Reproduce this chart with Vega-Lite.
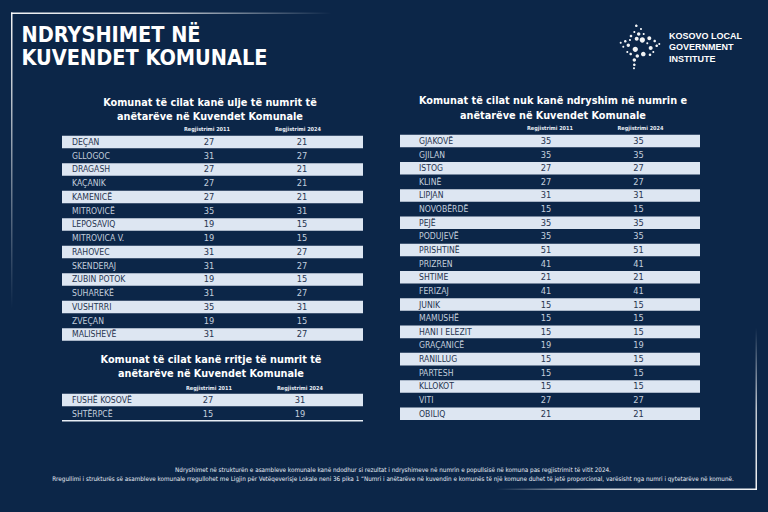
{
  "$schema": "https://vega.github.io/schema/vega-lite/v6.json",
  "width": 768,
  "height": 512,
  "autosize": {"type": "none"},
  "padding": 0,
  "background": "#0c2648",
  "config": {
    "view": {"stroke": null},
    "axis": {"disable": true},
    "legend": {"disable": true},
    "text": {"font": "DejaVu Sans Condensed, DejaVu Sans, sans-serif"}
  },
  "datasets": {
    "ulje": [
      {"komuna": "DEÇAN", "r2011": 27, "r2024": 21},
      {"komuna": "GLLOGOC", "r2011": 31, "r2024": 27},
      {"komuna": "DRAGASH", "r2011": 27, "r2024": 21},
      {"komuna": "KAÇANIK", "r2011": 27, "r2024": 21},
      {"komuna": "KAMENICË", "r2011": 27, "r2024": 21},
      {"komuna": "MITROVICË", "r2011": 35, "r2024": 31},
      {"komuna": "LEPOSAVIQ", "r2011": 19, "r2024": 15},
      {"komuna": "MITROVICA V.", "r2011": 19, "r2024": 15},
      {"komuna": "RAHOVEC", "r2011": 31, "r2024": 27},
      {"komuna": "SKENDERAJ", "r2011": 31, "r2024": 27},
      {"komuna": "ZUBIN POTOK", "r2011": 19, "r2024": 15},
      {"komuna": "SUHAREKË", "r2011": 31, "r2024": 27},
      {"komuna": "VUSHTRRI", "r2011": 35, "r2024": 31},
      {"komuna": "ZVEÇAN", "r2011": 19, "r2024": 15},
      {"komuna": "MALISHEVË", "r2011": 31, "r2024": 27}
    ],
    "rritje": [
      {"komuna": "FUSHË KOSOVË", "r2011": 27, "r2024": 31},
      {"komuna": "SHTËRPCË", "r2011": 15, "r2024": 19}
    ],
    "pa": [
      {"komuna": "GJAKOVË", "r2011": 35, "r2024": 35},
      {"komuna": "GJILAN", "r2011": 35, "r2024": 35},
      {"komuna": "ISTOG", "r2011": 27, "r2024": 27},
      {"komuna": "KLINË", "r2011": 27, "r2024": 27},
      {"komuna": "LIPJAN", "r2011": 31, "r2024": 31},
      {"komuna": "NOVOBËRDË", "r2011": 15, "r2024": 15},
      {"komuna": "PEJË", "r2011": 35, "r2024": 35},
      {"komuna": "PODUJEVË", "r2011": 35, "r2024": 35},
      {"komuna": "PRISHTINË", "r2011": 51, "r2024": 51},
      {"komuna": "PRIZREN", "r2011": 41, "r2024": 41},
      {"komuna": "SHTIME", "r2011": 21, "r2024": 21},
      {"komuna": "FERIZAJ", "r2011": 41, "r2024": 41},
      {"komuna": "JUNIK", "r2011": 15, "r2024": 15},
      {"komuna": "MAMUSHË", "r2011": 15, "r2024": 15},
      {"komuna": "HANI I ELEZIT", "r2011": 15, "r2024": 15},
      {"komuna": "GRAÇANICË", "r2011": 19, "r2024": 19},
      {"komuna": "RANILLUG", "r2011": 15, "r2024": 15},
      {"komuna": "PARTESH", "r2011": 15, "r2024": 15},
      {"komuna": "KLLOKOT", "r2011": 15, "r2024": 15},
      {"komuna": "VITI", "r2011": 27, "r2024": 27},
      {"komuna": "OBILIQ", "r2011": 21, "r2024": 21}
    ],
    "cols": [
      {"c": "Regjistrimi 2011"},
      {"c": "Regjistrimi 2024"}
    ],
    "title": [
      {"b": "title", "t": ["NDRYSHIMET NË", "KUVENDET KOMUNALE"]}
    ],
    "texts": [
      {"b": "logo", "n": 1, "t": "KOSOVO LOCAL"},
      {"b": "logo", "n": 2, "t": "GOVERNMENT"},
      {"b": "logo", "n": 3, "t": "INSTITUTE"},
      {"b": "h1", "n": 1, "t": "Komunat të cilat kanë ulje të numrit të"},
      {"b": "h1", "n": 2, "t": "anëtarëve në Kuvendet Komunale"},
      {"b": "h2", "n": 1, "t": "Komunat të cilat kanë rritje të numrit të"},
      {"b": "h2", "n": 2, "t": "anëtarëve në Kuvendet Komunale"},
      {"b": "h3", "n": 1, "t": "Komunat të cilat nuk kanë ndryshim në numrin e"},
      {"b": "h3", "n": 2, "t": "anëtarëve në Kuvendet Komunale"},
      {"b": "foot", "n": 1, "t": "Ndryshimet në strukturën e asambleve komunale kanë ndodhur si rezultat i ndryshimeve në numrin e popullsisë në komuna pas regjistrimit të vitit 2024."},
      {"b": "foot", "n": 2, "t": "Rregullimi i strukturës së asambleve komunale rregullohet me Ligjin për Vetëqeverisje Lokale neni 36 pika 1 “Numri i anëtarëve në kuvendin e komunës të një komune duhet të jetë proporcional, varësisht nga numri i qytetarëve në komunë."}
    ]
  },
  "resolve": {"scale": {"x": "independent", "y": "independent"}},
  "layer": [
    {
      "data": {"values": [{"seg": "top"}]},
      "mark": {"type": "rect", "fill": {"gradient": "linear", "x1": 0, "y1": 0, "x2": 1, "y2": 0, "stops": [{"offset": 0, "color": "rgba(255,255,255,0.95)"}, {"offset": 0.45, "color": "rgba(255,255,255,0.8)"}, {"offset": 1, "color": "rgba(255,255,255,0)"}]}},
      "encoding": {
        "x": {"datum": 0, "type": "quantitative", "scale": {"domain": [0, 1], "range": [11, 757]}},
        "x2": {"datum": 0.43},
        "y": {"datum": 0, "type": "quantitative", "scale": {"domain": [0, 1], "range": [12.5, 490]}},
        "y2": {"datum": 0.0032}
      }
    },
    {
      "data": {"values": [{"seg": "left"}]},
      "mark": {"type": "rect", "fill": {"gradient": "linear", "x1": 0, "y1": 0, "x2": 0, "y2": 1, "stops": [{"offset": 0, "color": "rgba(255,255,255,0.95)"}, {"offset": 0.3, "color": "rgba(255,255,255,0.7)"}, {"offset": 1, "color": "rgba(255,255,255,0)"}]}},
      "encoding": {
        "x": {"datum": 0, "type": "quantitative", "scale": {"domain": [0, 1], "range": [11, 757]}},
        "x2": {"datum": 0.002},
        "y": {"datum": 0, "type": "quantitative", "scale": {"domain": [0, 1], "range": [12.5, 490]}},
        "y2": {"datum": 0.62}
      }
    },
    {
      "data": {"values": [{"seg": "right"}]},
      "mark": {"type": "rect", "fill": {"gradient": "linear", "x1": 0, "y1": 0, "x2": 0, "y2": 1, "stops": [{"offset": 0, "color": "rgba(255,255,255,0)"}, {"offset": 0.5, "color": "rgba(255,255,255,0.75)"}, {"offset": 1, "color": "rgba(255,255,255,0.95)"}]}},
      "encoding": {
        "x": {"datum": 0.998, "type": "quantitative", "scale": {"domain": [0, 1], "range": [11, 757]}},
        "x2": {"datum": 1},
        "y": {"datum": 0.66, "type": "quantitative", "scale": {"domain": [0, 1], "range": [12.5, 490]}},
        "y2": {"datum": 1}
      }
    },
    {
      "data": {"values": [{"seg": "bottom"}]},
      "mark": {"type": "rect", "fill": {"gradient": "linear", "x1": 0, "y1": 0, "x2": 1, "y2": 0, "stops": [{"offset": 0, "color": "rgba(255,255,255,0)"}, {"offset": 0.4, "color": "rgba(255,255,255,0.8)"}, {"offset": 1, "color": "rgba(255,255,255,0.95)"}]}},
      "encoding": {
        "x": {"datum": 0.65, "type": "quantitative", "scale": {"domain": [0, 1], "range": [11, 757]}},
        "x2": {"datum": 1},
        "y": {"datum": 0.9968, "type": "quantitative", "scale": {"domain": [0, 1], "range": [12.5, 490]}},
        "y2": {"datum": 1}
      }
    },
    {
      "data": {"name": "title"},
      "mark": {"type": "text", "align": "left", "baseline": "alphabetic", "fontSize": 21.5, "lineHeight": 23, "fontWeight": "bold", "color": "#ffffff"},
      "encoding": {
        "text": {"field": "t"},
        "x": {"field": "b", "type": "nominal", "scale": {"type": "point", "range": [21.5, 21.5]}},
        "y": {"field": "b", "type": "nominal", "scale": {"type": "point", "range": [42, 42]}}
      }
    },
    {
      "data": {"values": [{"logo": "KLGI"}]},
      "mark": {"type": "point", "filled": true, "color": "#ffffff", "opacity": 0.95, "size": 1936, "shape": "M-0.227,-0.968a0.06,0.06,0,1,0,0.12,0a0.06,0.06,0,1,0,-0.12,0ZM0,-0.818a0.045,0.045,0,1,0,0.09,0a0.045,0.045,0,1,0,-0.09,0ZM-0.303,-0.682a0.045,0.045,0,1,0,0.09,0a0.045,0.045,0,1,0,-0.09,0ZM-0.136,-0.591a0.077,0.077,0,1,0,0.154,0a0.077,0.077,0,1,0,-0.154,0ZM0.123,-0.591a0.045,0.045,0,1,0,0.09,0a0.045,0.045,0,1,0,-0.09,0ZM-0.469,-0.5a0.06,0.06,0,1,0,0.12,0a0.06,0.06,0,1,0,-0.12,0ZM-0.24,-0.377a0.09,0.09,0,1,0,0.18,0a0.09,0.09,0,1,0,-0.18,0ZM-0.015,-0.318a0.12,0.12,0,1,0,0.24,0a0.12,0.12,0,1,0,-0.24,0ZM0.333,-0.395a0.09,0.09,0,1,0,0.18,0a0.09,0.09,0,1,0,-0.18,0ZM0.608,-0.273a0.06,0.06,0,1,0,0.12,0a0.06,0.06,0,1,0,-0.12,0ZM0.832,-0.136a0.045,0.045,0,1,0,0.09,0a0.045,0.045,0,1,0,-0.09,0ZM-0.922,-0.195a0.045,0.045,0,1,0,0.09,0a0.045,0.045,0,1,0,-0.09,0ZM-0.728,-0.259a0.06,0.06,0,1,0,0.12,0a0.06,0.06,0,1,0,-0.12,0ZM-0.609,-0.077a0.077,0.077,0,1,0,0.154,0a0.077,0.077,0,1,0,-0.154,0ZM-0.334,0.105a0.12,0.12,0,1,0,0.24,0a0.12,0.12,0,1,0,-0.24,0ZM0.045,0.318a0.105,0.105,0,1,0,0.21,0a0.105,0.105,0,1,0,-0.21,0ZM0.396,0.045a0.09,0.09,0,1,0,0.18,0a0.09,0.09,0,1,0,-0.18,0ZM0.699,-0.059a0.06,0.06,0,1,0,0.12,0a0.06,0.06,0,1,0,-0.12,0ZM-0.804,-0.014a0.045,0.045,0,1,0,0.09,0a0.045,0.045,0,1,0,-0.09,0ZM-0.622,0.227a0.045,0.045,0,1,0,0.09,0a0.045,0.045,0,1,0,-0.09,0ZM-0.483,0.318a0.06,0.06,0,1,0,0.12,0a0.06,0.06,0,1,0,-0.12,0ZM-0.2,0.409a0.077,0.077,0,1,0,0.154,0a0.077,0.077,0,1,0,-0.154,0ZM0.395,0.35a0.06,0.06,0,1,0,0.12,0a0.06,0.06,0,1,0,-0.12,0ZM0.56,0.227a0.045,0.045,0,1,0,0.09,0a0.045,0.045,0,1,0,-0.09,0ZM-0.335,0.591a0.077,0.077,0,1,0,0.154,0a0.077,0.077,0,1,0,-0.154,0ZM-0.318,0.805a0.06,0.06,0,1,0,0.12,0a0.06,0.06,0,1,0,-0.12,0ZM-0.318,0.97a0.045,0.045,0,1,0,0.09,0a0.045,0.045,0,1,0,-0.09,0ZM0.287,-0.168a0.045,0.045,0,1,0,0.09,0a0.045,0.045,0,1,0,-0.09,0ZM-0.5,-0.318a0.045,0.045,0,1,0,0.09,0a0.045,0.045,0,1,0,-0.09,0Z"},
      "encoding": {
        "x": {"field": "logo", "type": "nominal", "scale": {"type": "point", "range": [640, 640]}},
        "y": {"field": "logo", "type": "nominal", "scale": {"type": "point", "range": [47, 47]}}
      }
    },
    {
      "data": {"name": "texts"},
      "transform": [{"filter": "datum.b == 'logo'"}],
      "mark": {"type": "text", "align": "left", "baseline": "alphabetic", "font": "Liberation Sans, Arial, sans-serif", "fontSize": 9, "fontWeight": "bold", "color": "#ffffff"},
      "encoding": {
        "text": {"field": "t"},
        "x": {"field": "t", "type": "nominal", "scale": {"type": "point", "range": [669, 669]}},
        "y": {"field": "n", "type": "ordinal", "scale": {"type": "point", "range": [38.5, 61.5], "padding": 0}}
      }
    },
    {
      "data": {"name": "texts"},
      "transform": [{"filter": "datum.b == 'h1'"}],
      "mark": {"type": "text", "align": "center", "baseline": "alphabetic", "fontSize": 10.8, "fontWeight": "bold", "color": "#ffffff"},
      "encoding": {
        "text": {"field": "t"},
        "x": {"field": "t", "type": "nominal", "scale": {"type": "point", "range": [210, 210]}},
        "y": {"field": "n", "type": "ordinal", "scale": {"type": "point", "range": [105.5, 120], "padding": 0}}
      }
    },
    {
      "data": {"name": "texts"},
      "transform": [{"filter": "datum.b == 'h2'"}],
      "mark": {"type": "text", "align": "center", "baseline": "alphabetic", "fontSize": 10.8, "fontWeight": "bold", "color": "#ffffff"},
      "encoding": {
        "text": {"field": "t"},
        "x": {"field": "t", "type": "nominal", "scale": {"type": "point", "range": [211, 211]}},
        "y": {"field": "n", "type": "ordinal", "scale": {"type": "point", "range": [362.5, 377], "padding": 0}}
      }
    },
    {
      "data": {"name": "texts"},
      "transform": [{"filter": "datum.b == 'h3'"}],
      "mark": {"type": "text", "align": "center", "baseline": "alphabetic", "fontSize": 10.8, "fontWeight": "bold", "color": "#ffffff"},
      "encoding": {
        "text": {"field": "t"},
        "x": {"field": "t", "type": "nominal", "scale": {"type": "point", "range": [553, 553]}},
        "y": {"field": "n", "type": "ordinal", "scale": {"type": "point", "range": [104, 118.5], "padding": 0}}
      }
    },
    {
      "data": {"name": "texts"},
      "transform": [{"filter": "datum.b == 'foot'"}],
      "mark": {"type": "text", "align": "center", "baseline": "middle", "fontSize": 6.3, "color": "#e8edf5"},
      "encoding": {
        "text": {"field": "t"},
        "x": {"field": "t", "type": "nominal", "scale": {"type": "point", "range": [393, 393]}},
        "y": {"field": "n", "type": "ordinal", "scale": {"type": "point", "range": [470, 479], "padding": 0}}
      }
    },
    {
      "data": {"name": "cols"},
      "mark": {"type": "text", "align": "center", "baseline": "middle", "fontSize": 5.5, "fontWeight": "bold", "color": "#e8edf5"},
      "encoding": {
        "text": {"field": "c"},
        "x": {"field": "c", "type": "nominal", "scale": {"type": "point", "range": [207, 298], "padding": 0}},
        "y": {"field": "c", "type": "nominal", "scale": {"type": "point", "range": [128.5, 128.5]}}
      }
    },
    {
      "data": {"name": "cols"},
      "mark": {"type": "text", "align": "center", "baseline": "middle", "fontSize": 5.5, "fontWeight": "bold", "color": "#e8edf5"},
      "encoding": {
        "text": {"field": "c"},
        "x": {"field": "c", "type": "nominal", "scale": {"type": "point", "range": [209, 300], "padding": 0}},
        "y": {"field": "c", "type": "nominal", "scale": {"type": "point", "range": [387.5, 387.5]}}
      }
    },
    {
      "data": {"name": "cols"},
      "mark": {"type": "text", "align": "center", "baseline": "middle", "fontSize": 5.5, "fontWeight": "bold", "color": "#e8edf5"},
      "encoding": {
        "text": {"field": "c"},
        "x": {"field": "c", "type": "nominal", "scale": {"type": "point", "range": [550, 640.5], "padding": 0}},
        "y": {"field": "c", "type": "nominal", "scale": {"type": "point", "range": [127.5, 127.5]}}
      }
    },
    {
      "data": {"name": "ulje"},
      "transform": [{"window": [{"op": "row_number", "as": "i"}]}],
      "mark": {"type": "rect"},
      "encoding": {
        "y": {"field": "komuna", "type": "nominal", "sort": null, "scale": {"type": "band", "range": [135.1, 341.35], "paddingInner": 0.08, "paddingOuter": 0.04}},
        "x": {"datum": 0, "type": "quantitative", "scale": {"domain": [0, 1], "range": [62, 363]}},
        "x2": {"datum": 1},
        "fill": {"condition": {"test": "datum.i % 2 == 1", "value": "#dde6f2"}, "value": "transparent"}
      }
    },
    {
      "data": {"name": "ulje"},
      "transform": [{"window": [{"op": "row_number", "as": "i"}]}],
      "mark": {"type": "text", "align": "left", "baseline": "middle", "dx": 10, "fontSize": 8.6},
      "encoding": {
        "y": {"field": "komuna", "type": "nominal", "sort": null, "scale": {"type": "band", "range": [135.1, 341.35], "paddingInner": 0.08, "paddingOuter": 0.04}},
        "x": {"datum": 0, "type": "quantitative", "scale": {"domain": [0, 1], "range": [62, 363]}},
        "text": {"field": "komuna"},
        "color": {"condition": {"test": "datum.i % 2 == 1", "value": "#26344f"}, "value": "#c3cedd"}
      }
    },
    {
      "data": {"name": "ulje"},
      "transform": [{"window": [{"op": "row_number", "as": "i"}]}, {"fold": ["r2011", "r2024"], "as": ["col", "val"]}],
      "mark": {"type": "text", "align": "center", "baseline": "middle", "fontSize": 9.2},
      "encoding": {
        "y": {"field": "komuna", "type": "nominal", "sort": null, "scale": {"type": "band", "range": [135.1, 341.35], "paddingInner": 0.08, "paddingOuter": 0.04}},
        "x": {"field": "col", "type": "nominal", "scale": {"type": "point", "range": [209, 302], "padding": 0}},
        "text": {"field": "val"},
        "color": {"condition": {"test": "datum.i % 2 == 1", "value": "#26344f"}, "value": "#c3cedd"}
      }
    },
    {
      "data": {"name": "rritje"},
      "transform": [{"window": [{"op": "row_number", "as": "i"}]}],
      "mark": {"type": "rect"},
      "encoding": {
        "y": {"field": "komuna", "type": "nominal", "sort": null, "scale": {"type": "band", "range": [393.25, 420.25], "paddingInner": 0.08, "paddingOuter": 0.04}},
        "x": {"datum": 0, "type": "quantitative", "scale": {"domain": [0, 1], "range": [62, 363]}},
        "x2": {"datum": 1},
        "fill": {"condition": {"test": "datum.i % 2 == 1", "value": "#dde6f2"}, "value": "transparent"}
      }
    },
    {
      "data": {"name": "rritje"},
      "transform": [{"window": [{"op": "row_number", "as": "i"}]}],
      "mark": {"type": "rule", "strokeWidth": 1.5, "color": "#e8eef6", "yOffset": 1},
      "encoding": {
        "y": {"field": "komuna", "type": "nominal", "sort": null, "bandPosition": 1, "scale": {"type": "band", "range": [393.25, 420.25], "paddingInner": 0.08, "paddingOuter": 0.04}},
        "x": {"datum": 0, "type": "quantitative", "scale": {"domain": [0, 1], "range": [62, 363]}},
        "x2": {"datum": 1},
        "strokeOpacity": {"condition": {"test": "datum.i == 2", "value": 1}, "value": 0}
      }
    },
    {
      "data": {"name": "rritje"},
      "transform": [{"window": [{"op": "row_number", "as": "i"}]}],
      "mark": {"type": "text", "align": "left", "baseline": "middle", "dx": 10, "fontSize": 8.6},
      "encoding": {
        "y": {"field": "komuna", "type": "nominal", "sort": null, "scale": {"type": "band", "range": [393.25, 420.25], "paddingInner": 0.08, "paddingOuter": 0.04}},
        "x": {"datum": 0, "type": "quantitative", "scale": {"domain": [0, 1], "range": [62, 363]}},
        "text": {"field": "komuna"},
        "color": {"condition": {"test": "datum.i % 2 == 1", "value": "#26344f"}, "value": "#c3cedd"}
      }
    },
    {
      "data": {"name": "rritje"},
      "transform": [{"window": [{"op": "row_number", "as": "i"}]}, {"fold": ["r2011", "r2024"], "as": ["col", "val"]}],
      "mark": {"type": "text", "align": "center", "baseline": "middle", "fontSize": 9.2},
      "encoding": {
        "y": {"field": "komuna", "type": "nominal", "sort": null, "scale": {"type": "band", "range": [393.25, 420.25], "paddingInner": 0.08, "paddingOuter": 0.04}},
        "x": {"field": "col", "type": "nominal", "scale": {"type": "point", "range": [208, 300], "padding": 0}},
        "text": {"field": "val"},
        "color": {"condition": {"test": "datum.i % 2 == 1", "value": "#26344f"}, "value": "#c3cedd"}
      }
    },
    {
      "data": {"name": "pa"},
      "transform": [{"window": [{"op": "row_number", "as": "i"}]}],
      "mark": {"type": "rect"},
      "encoding": {
        "y": {"field": "komuna", "type": "nominal", "sort": null, "scale": {"type": "band", "range": [134.1, 420.5], "paddingInner": 0.08, "paddingOuter": 0.04}},
        "x": {"datum": 0, "type": "quantitative", "scale": {"domain": [0, 1], "range": [400, 700]}},
        "x2": {"datum": 1},
        "fill": {"condition": {"test": "datum.i % 2 == 1", "value": "#dde6f2"}, "value": "transparent"}
      }
    },
    {
      "data": {"name": "pa"},
      "transform": [{"window": [{"op": "row_number", "as": "i"}]}],
      "mark": {"type": "text", "align": "left", "baseline": "middle", "dx": 19, "fontSize": 8.6},
      "encoding": {
        "y": {"field": "komuna", "type": "nominal", "sort": null, "scale": {"type": "band", "range": [134.1, 420.5], "paddingInner": 0.08, "paddingOuter": 0.04}},
        "x": {"datum": 0, "type": "quantitative", "scale": {"domain": [0, 1], "range": [400, 700]}},
        "text": {"field": "komuna"},
        "color": {"condition": {"test": "datum.i % 2 == 1", "value": "#26344f"}, "value": "#c3cedd"}
      }
    },
    {
      "data": {"name": "pa"},
      "transform": [{"window": [{"op": "row_number", "as": "i"}]}, {"fold": ["r2011", "r2024"], "as": ["col", "val"]}],
      "mark": {"type": "text", "align": "center", "baseline": "middle", "fontSize": 9.2},
      "encoding": {
        "y": {"field": "komuna", "type": "nominal", "sort": null, "scale": {"type": "band", "range": [134.1, 420.5], "paddingInner": 0.08, "paddingOuter": 0.04}},
        "x": {"field": "col", "type": "nominal", "scale": {"type": "point", "range": [546, 638.5], "padding": 0}},
        "text": {"field": "val"},
        "color": {"condition": {"test": "datum.i % 2 == 1", "value": "#26344f"}, "value": "#c3cedd"}
      }
    }
  ]
}
